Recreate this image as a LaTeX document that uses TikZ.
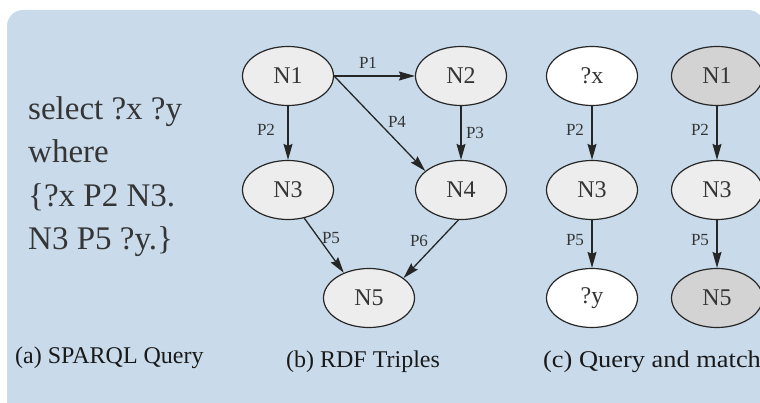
\documentclass[tikz,border=0pt]{standalone}
\usepackage{fontspec}
\setmainfont{Liberation Serif}
\usetikzlibrary{shapes.geometric,arrows.meta}
\definecolor{panelblue}{HTML}{C9DBEB}
\definecolor{inkgray}{HTML}{353535}
\definecolor{lightnode}{HTML}{EDEDED}
\definecolor{darknode}{HTML}{D3D3D3}
\tikzset{
  gnode/.style={ellipse,draw=black!85,line width=1.2pt,minimum width=91pt,minimum height=59pt,inner sep=0pt,
    font=\fontsize{24}{24}\selectfont,text=inkgray},
  plain/.style={gnode,fill=lightnode},
  var/.style={gnode,fill=white},
  hit/.style={gnode,fill=darknode},
  edge/.style={draw=black!85,line width=1.3pt,-{Stealth[length=16pt,width=9pt,inset=2pt]}},
  elabel/.style={font=\fontsize{17}{17}\selectfont,text=inkgray,inner sep=1pt},
  qline/.style={anchor=base west,font=\fontsize{33}{33}\selectfont,text=inkgray,inner sep=0pt},
  caption/.style={font=\fontsize{24}{24}\selectfont,text=black!90,inner sep=0pt},
}
\begin{document}
\begin{tikzpicture}[x=1pt,y=-1pt]
\useasboundingbox (0,0) rectangle (760,403);
\fill[panelblue,rounded corners=16pt] (7,10) rectangle (764,418);

% (a) query text
\node[qline] (q1) at (28,120) {select ?x ?y};
\node[qline] (q2) at (28,163) {where};
\node[qline] (q3) at (28,207) {\{?x P2 N3.};
\node[qline] (q4) at (28,250) {N3 P5 ?y.\}};

% (b) RDF graph
\node[plain] (b1) at (288,76) {N1};
\node[plain] (b2) at (461,76) {N2};
\node[plain] (b3) at (288,190) {N3};
\node[plain] (b4) at (461,190) {N4};
\node[plain] (b5) at (369,298) {N5};

\draw[edge] (b1.east) -- (b2.west);
\draw[edge] (b1.south) -- (b3.north);
\draw[edge] (b1.east) -- (b4.152);
\draw[edge] (b2.south) -- (b4.north);
\draw[edge] (b3.300) -- (b5.135);
\draw[edge] (b4.265) -- (b5.30);

\node[elabel] (l1) at (368,63) {P1};
\node[elabel] (l2) at (266,130) {P2};
\node[elabel] (l4) at (397,122) {P4};
\node[elabel] (l3) at (475,133) {P3};
\node[elabel] (l5) at (331,238) {P5};
\node[elabel] (l6) at (419,241) {P6};

% (c) query pattern and its match
\node[var] (cx) at (592,76) {?x};
\node[plain] (c3) at (592,190) {N3};
\node[var] (cy) at (592,298) {?y};
\draw[edge] (cx.south) -- (c3.north);
\draw[edge] (c3.south) -- (cy.north);
\node[elabel] (m1) at (575,130) {P2};
\node[elabel] (m2) at (575,240) {P5};

\node[hit] (d1) at (717,76) {N1};
\node[plain] (d3) at (717,190) {N3};
\node[hit] (d5) at (717,298) {N5};
\draw[edge] (d1.south) -- (d3.north);
\draw[edge] (d3.south) -- (d5.north);
\node[elabel] (n1) at (700,130) {P2};
\node[elabel] (n2) at (700,240) {P5};

% captions
\node[caption,anchor=west] (ca) at (15,358) {(a) SPARQL Query};
\node[caption] (cb) at (363,362) {(b) RDF Triples};
\node[caption,anchor=west] (cc) at (543,362) {\scalebox{1.1}[1]{(c) Query and match}};
\end{tikzpicture}
\end{document}
